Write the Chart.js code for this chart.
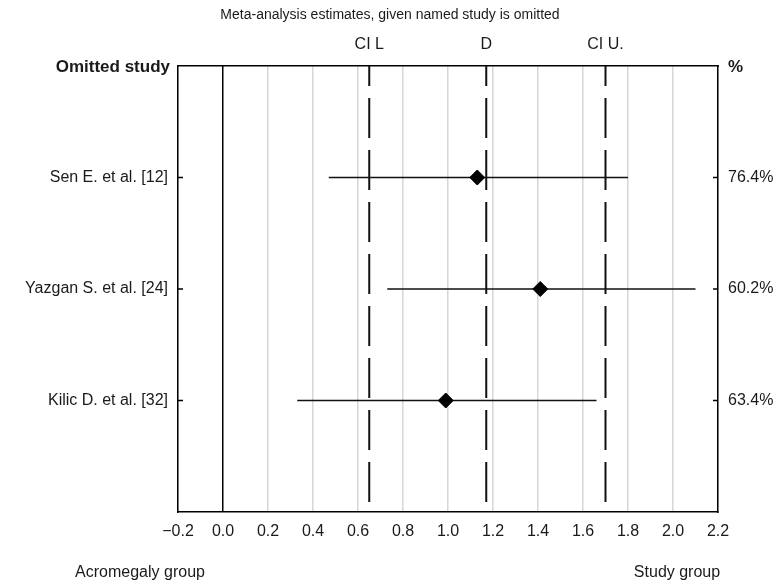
<!DOCTYPE html>
<html>
<head>
<meta charset="utf-8">
<script src="https://cdn.jsdelivr.net/npm/chart.js@4.4.1/dist/chart.umd.min.js"></script>
<style>
  html, body { margin: 0; padding: 0; background: #fff; }
  canvas { display: block; }
</style>
</head>
<body>
<canvas id="forest" width="782" height="581"></canvas>
<script>
// data
const studies = ['Sen E. et al. [12]', 'Yazgan S. et al. [24]', 'Kilic D. et al. [32]'];
const estimates = [1.13, 1.41, 0.99];
const ciLow = [0.47, 0.73, 0.33];
const ciHigh = [1.80, 2.10, 1.66];
const weights = ['76.4%', '60.2%', '63.4%'];
const pooledLabels = ['CI L', 'D', 'CI U.'];
const pooledValues = [0.65, 1.17, 1.70];
const xTicks = [-0.2, 0, 0.2, 0.4, 0.6, 0.8, 1.0, 1.2, 1.4, 1.6, 1.8, 2.0, 2.2];

const FONT = "'Liberation Sans', Arial, sans-serif";
Chart.defaults.font.family = FONT;
Chart.defaults.font.size = 16;
Chart.defaults.color = '#1a1a1a';

const fmt = v => (v < 0 ? '\u2212' : '') + Math.abs(v).toFixed(1);
const rows = studies.map((s, i) => i + 1);

const extras = {
    id: 'extras',
    afterDraw: (chart) => {
        const { ctx, chartArea: { left, right, top }, scales: { y } } = chart;
        ctx.save();
        ctx.fillStyle = '#1a1a1a';
        ctx.textBaseline = 'middle';

        ctx.font = "14px " + FONT;
        ctx.textAlign = 'center';
        ctx.fillText('Meta-analysis estimates, given named study is omitted', 390, 15);
        ctx.font = "16px " + FONT;
        ctx.fillText('Acromegaly group', 140, 573);
        ctx.fillText('Study group', 677, 573);

        ctx.font = "bold 17px " + FONT;
        ctx.textAlign = 'right';
        ctx.fillText('Omitted study', left - 8, top + 1);
        ctx.textAlign = 'left';
        ctx.fillText('%', right + 10, top + 1);

        // small inward ticks on both side borders
        ctx.strokeStyle = '#000';
        ctx.lineWidth = 1.5;
        rows.forEach(r => {
            const py = y.getPixelForValue(r);
            ctx.beginPath();
            ctx.moveTo(left, py); ctx.lineTo(left + 5, py);
            ctx.moveTo(right - 5, py); ctx.lineTo(right, py);
            ctx.stroke();
        });
        ctx.restore();
    }
};

const datasets = [
    {
        type: 'scatter',
        data: estimates.map((e, i) => ({ x: e, y: i + 1 })),
        pointStyle: 'rectRot',
        pointRadius: 7.5,
        backgroundColor: '#000',
        borderColor: '#000',
        order: 0
    },
    ...studies.map((s, i) => ({
        type: 'line',
        data: [{ x: ciLow[i], y: i + 1 }, { x: ciHigh[i], y: i + 1 }],
        borderColor: '#111',
        borderWidth: 1.5,
        pointRadius: 0,
        order: 1
    })),
    ...pooledValues.map(v => ({
        type: 'line',
        data: [{ x: v, y: 0 }, { x: v, y: 4 }],
        borderColor: '#111',
        borderWidth: 2,
        borderDash: [40, 12],
        borderDashOffset: 20,
        pointRadius: 0,
        order: 2
    }))
];

new Chart(document.getElementById('forest'), {
    data: { datasets },
    options: {
        responsive: false,
        animation: false,
        devicePixelRatio: 1,
        layout: { padding: 0 },
        plugins: { legend: { display: false }, title: { display: false }, tooltip: { enabled: false } },
        scales: {
            x: {
                type: 'linear', position: 'bottom', min: -0.2, max: 2.2,
                afterBuildTicks: s => { s.ticks = xTicks.map(v => ({ value: v })); },
                afterFit: s => { s.height = 69; },
                ticks: { callback: v => fmt(v), padding: 10, autoSkip: false, maxRotation: 0, color: '#1a1a1a' },
                grid: {
                    color: c => (c.tick && Math.abs(c.tick.value) < 1e-9 ? '#000' : '#d6d6d6'),
                    lineWidth: 1.5,
                    drawTicks: false
                },
                border: { color: '#000', width: 1.5 }
            },
            x2: {
                type: 'linear', position: 'top', min: -0.2, max: 2.2,
                afterBuildTicks: s => { s.ticks = pooledValues.map(v => ({ value: v })); },
                afterFit: s => { s.height = 66; },
                ticks: { callback: (v, i) => pooledLabels[i], padding: 12, autoSkip: false, maxRotation: 0, color: '#1a1a1a' },
                grid: { drawOnChartArea: false, drawTicks: false },
                border: { color: '#000', width: 1.5 }
            },
            y: {
                type: 'linear', position: 'left', min: 0, max: 4, reverse: true,
                afterBuildTicks: s => { s.ticks = rows.map(v => ({ value: v })); },
                afterFit: s => { s.width = 178; },
                ticks: { callback: v => studies[v - 1], padding: 10, autoSkip: false, color: '#1a1a1a' },
                grid: { drawOnChartArea: false, drawTicks: false },
                border: { color: '#000', width: 1.5 }
            },
            y2: {
                type: 'linear', position: 'right', min: 0, max: 4, reverse: true,
                afterBuildTicks: s => { s.ticks = rows.map(v => ({ value: v })); },
                afterFit: s => { s.width = 64; },
                ticks: { callback: v => weights[v - 1], padding: 10, autoSkip: false, color: '#1a1a1a' },
                grid: { drawOnChartArea: false, drawTicks: false },
                border: { color: '#000', width: 1.5 }
            }
        }
    },
    plugins: [extras]
});
</script>
</body>
</html>
